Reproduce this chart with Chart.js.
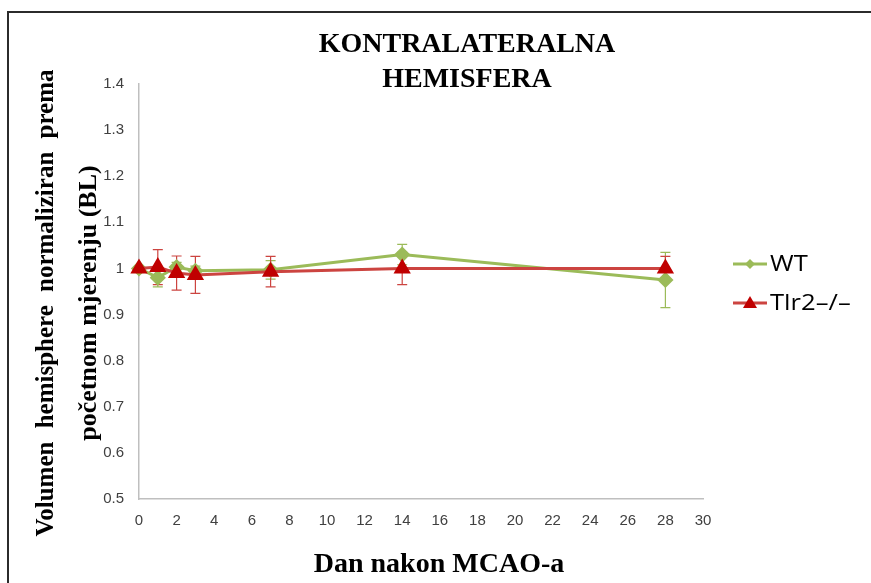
<!DOCTYPE html>
<html>
<head>
<meta charset="utf-8">
<script src="https://cdn.jsdelivr.net/npm/chart.js@4/dist/chart.umd.min.js"></script>
<style>
  html, body { margin: 0; padding: 0; background: #fff; }
  #wrap { width: 871px; height: 583px; position: relative; }
</style>
</head>
<body>
<div id="wrap"><canvas id="c" width="871" height="583"></canvas></div>
<script>
// Days after MCAO
const days = [0, 1, 2, 3, 7, 14, 28];
// Hemisphere volume normalised to baseline (mean) and its error
const wtValues  = [1.000, 0.980, 1.003, 0.995, 0.997, 1.030, 0.975];
const wtErrors  = [0.005, 0.020, 0.010, 0.010, 0.020, 0.022, 0.060];
const tlrValues = [1.000, 1.003, 0.990, 0.986, 0.993, 1.000, 1.000];
const tlrErrors = [0.005, 0.038, 0.037, 0.040, 0.033, 0.035, 0.026];
const seriesNames = ['WT', 'Tlr2\u2013/\u2013'];

const xTicks = { min: 0, max: 30, step: 2 };
const yTicks = { min: 0.5, max: 1.4, step: 0.1 };

const titleLines = ['KONTRALATERALNA', 'HEMISFERA'];
const yTitleLines = ['Volumen hemisphere normaliziran prema', 'po\u010Detnom mjerenju (BL)'];
const xTitle = 'Dan nakon MCAO-a';

const GREEN = '#9bbb59';
const RED_LINE = '#cc4440';
const RED_MARK = '#c00000';
const SERIF = '"Liberation Serif", "Times New Roman", serif';

const toPoints = (vals) => days.map((d, i) => ({ x: d, y: vals[i] }));

// Frame, titles and legend drawn around the plot
const decorations = {
  id: 'decorations',
  beforeDraw(chart) {
    const ctx = chart.ctx;
    ctx.save();
    ctx.fillStyle = '#fff';
    ctx.fillRect(0, 0, chart.width, chart.height);
    ctx.strokeStyle = '#2b2b2b';
    ctx.lineWidth = 2;
    ctx.beginPath();
    ctx.moveTo(8, chart.height + 2);
    ctx.lineTo(8, 12);
    ctx.lineTo(chart.width + 2, 12);
    ctx.stroke();
    ctx.restore();
  },
  afterDraw(chart) {
    const ctx = chart.ctx;
    ctx.save();
    ctx.fillStyle = '#000';
    ctx.textAlign = 'center';
    ctx.textBaseline = 'alphabetic';
    ctx.font = 'bold 28px ' + SERIF;
    ctx.fillText(titleLines[0], 467, 52);
    ctx.fillText(titleLines[1], 467, 87);

    // x axis title
    ctx.font = 'bold 28px ' + SERIF;
    ctx.fillText(xTitle, 439, 572);

    // y axis title, first line spread over a fixed length
    const midY = 303;
    ctx.save();
    ctx.translate(53, midY);
    ctx.rotate(-Math.PI / 2);
    ctx.font = 'bold 25px ' + SERIF;
    const words = yTitleLines[0].split(' ');
    const total = 467;
    const widths = words.map(w => ctx.measureText(w).width);
    const sum = widths.reduce((a, b) => a + b, 0);
    const gap = (total - sum) / (words.length - 1);
    let x = -total / 2;
    ctx.textAlign = 'left';
    words.forEach((w, i) => { ctx.fillText(w, x, 0); x += widths[i] + gap; });
    ctx.restore();

    ctx.save();
    ctx.translate(96, midY);
    ctx.rotate(-Math.PI / 2);
    ctx.font = 'bold 26px ' + SERIF;
    ctx.textAlign = 'center';
    ctx.fillText(yTitleLines[1], 0, 0);
    ctx.restore();

    // legend
    const items = [
      { name: seriesNames[0], line: GREEN, mark: GREEN, style: 'rectRot', y: 264 },
      { name: seriesNames[1], line: RED_LINE, mark: RED_MARK, style: 'triangle', y: 303 }
    ];
    items.forEach(it => {
      ctx.strokeStyle = it.line;
      ctx.lineWidth = 3;
      ctx.beginPath();
      ctx.moveTo(733, it.y);
      ctx.lineTo(767, it.y);
      ctx.stroke();
      ctx.fillStyle = it.mark;
      ctx.beginPath();
      if (it.style === 'triangle') {
        ctx.moveTo(750, it.y - 7); ctx.lineTo(757, it.y + 5); ctx.lineTo(743, it.y + 5);
      } else {
        ctx.moveTo(750, it.y - 5); ctx.lineTo(755, it.y); ctx.lineTo(750, it.y + 5); ctx.lineTo(745, it.y);
      }
      ctx.closePath();
      ctx.fill();
      ctx.save();
      ctx.translate(770, it.y + 1);
      ctx.scale(1.22, 1);
      ctx.fillStyle = '#000';
      ctx.font = '21px "Open Sans", "Liberation Sans", sans-serif';
      ctx.textAlign = 'left';
      ctx.textBaseline = 'middle';
      ctx.fillText(it.name, 0, 0);
      ctx.restore();
    });
    ctx.restore();
  }
};

// Vertical error bars with caps, drawn beneath the markers
const errorBars = {
  id: 'errorBars',
  beforeDatasetsDraw(chart) {
    const ctx = chart.ctx;
    const xs = chart.scales.x, ys = chart.scales.y;
    const sets = [
      { vals: wtValues, errs: wtErrors, color: GREEN },
      { vals: tlrValues, errs: tlrErrors, color: RED_LINE }
    ];
    ctx.save();
    ctx.lineWidth = 1.2;
    sets.forEach(s => {
      ctx.strokeStyle = s.color;
      days.forEach((d, i) => {
        const px = xs.getPixelForValue(d);
        const top = ys.getPixelForValue(s.vals[i] + s.errs[i]);
        const bot = ys.getPixelForValue(s.vals[i] - s.errs[i]);
        ctx.beginPath();
        ctx.moveTo(px, top); ctx.lineTo(px, bot);
        ctx.moveTo(px - 5, top); ctx.lineTo(px + 5, top);
        ctx.moveTo(px - 5, bot); ctx.lineTo(px + 5, bot);
        ctx.stroke();
      });
    });
    ctx.restore();
  }
};

new Chart(document.getElementById('c'), {
  type: 'line',
  data: {
    datasets: [
      {
        label: seriesNames[0],
        data: toPoints(wtValues),
        borderColor: GREEN,
        backgroundColor: GREEN,
        pointBackgroundColor: GREEN,
        pointBorderColor: GREEN,
        pointStyle: 'rectRot',
        pointRadius: 6,
        borderWidth: 3,
        tension: 0,
        clip: false,
        order: 2
      },
      {
        label: seriesNames[1],
        data: toPoints(tlrValues),
        borderColor: RED_LINE,
        backgroundColor: RED_MARK,
        pointBackgroundColor: RED_MARK,
        pointBorderColor: RED_MARK,
        pointStyle: 'triangle',
        pointRadius: 7,
        borderWidth: 3,
        tension: 0,
        clip: false,
        order: 1
      }
    ]
  },
  options: {
    responsive: false,
    animation: false,
    layout: { padding: { top: 84, right: 168, left: 0, bottom: 0 } },
    plugins: { legend: { display: false }, tooltip: { enabled: false }, title: { display: false } },
    scales: {
      x: {
        type: 'linear',
        min: xTicks.min, max: xTicks.max,
        afterFit(scale) { scale.height = 84; },
        ticks: {
          stepSize: xTicks.step, padding: 13, color: '#404040',
          font: { family: '"Liberation Sans", Arial, sans-serif', size: 15 },
          maxRotation: 0
        },
        grid: { display: false, drawTicks: false },
        border: { display: true, color: '#bfbfbf', width: 1.5 }
      },
      y: {
        min: yTicks.min, max: yTicks.max,
        afterFit(scale) { scale.width = 139; },
        ticks: {
          stepSize: yTicks.step, padding: 15, color: '#404040',
          font: { family: '"Liberation Sans", Arial, sans-serif', size: 15 },
          callback: (v) => (Math.round(v * 10) / 10).toString()
        },
        grid: { display: false, drawTicks: false },
        border: { display: true, color: '#bfbfbf', width: 1.5 }
      }
    }
  },
  plugins: [decorations, errorBars]
});
</script>
</body>
</html>
